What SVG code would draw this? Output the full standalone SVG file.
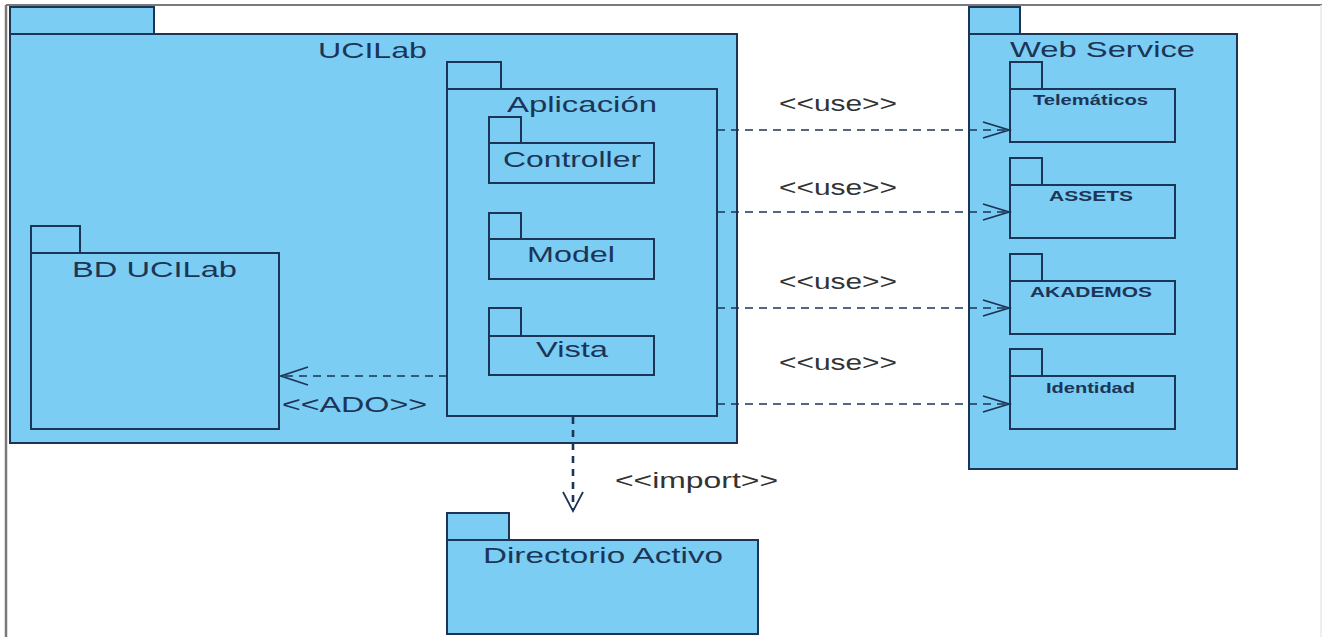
<svg xmlns="http://www.w3.org/2000/svg" width="1327" height="637" viewBox="0 0 1327 637">
<style>
.pk{fill:#7BCDF3;stroke:#1C3557;stroke-width:2}
.t{font-family:"Liberation Sans",Arial,sans-serif;fill:#1C3557;font-size:22px}
.tb{font-family:"Liberation Sans",Arial,sans-serif;fill:#1C3557;font-size:14px;font-weight:bold}
.lb{font-family:"Liberation Sans",Arial,sans-serif;fill:#333;font-size:22px}
.dep{fill:none;stroke:#1C3557;stroke-width:1.6;stroke-dasharray:8 6}
.imp{fill:none;stroke:#1C3557;stroke-width:2.6;stroke-dasharray:7 6}
.hd{fill:none;stroke:#1C3557;stroke-width:1.8}
</style>
<rect width="1327" height="637" fill="#fff"/>
<g id="frame">
<line x1="6" y1="5" x2="6" y2="637" stroke="#7a7a7a" stroke-width="2.5"/>
<line x1="6" y1="5" x2="1322" y2="5" stroke="#7a7a7a" stroke-width="2"/>
<line x1="1321" y1="5" x2="1321" y2="637" stroke="#e8e8e8" stroke-width="1.5"/>
</g>
<g id="UCILab">
<rect class="pk" x="10" y="7" width="144" height="27"/>
<rect class="pk" x="10" y="34" width="727" height="409"/>
<text class="t" x="318" y="58" textLength="109" lengthAdjust="spacingAndGlyphs">UCILab</text>
</g>
<g id="BD_UCILab">
<rect class="pk" x="31" y="226" width="49" height="27"/>
<rect class="pk" x="31" y="253" width="248" height="176"/>
<text class="t" x="72" y="277" textLength="165" lengthAdjust="spacingAndGlyphs">BD UCILab</text>
</g>
<g id="Aplicacion">
<rect class="pk" x="447" y="62" width="54" height="27"/>
<rect class="pk" x="447" y="89" width="270" height="327"/>
<text class="t" x="507" y="112" textLength="150" lengthAdjust="spacingAndGlyphs">Aplicación</text>
</g>
<g id="Controller">
<rect class="pk" x="489" y="117" width="32" height="26"/>
<rect class="pk" x="489" y="143" width="165" height="40"/>
<text class="t" x="503" y="167" textLength="138" lengthAdjust="spacingAndGlyphs">Controller</text>
</g>
<g id="Model">
<rect class="pk" x="489" y="213" width="32" height="26"/>
<rect class="pk" x="489" y="239" width="165" height="40"/>
<text class="t" x="527" y="262" textLength="88" lengthAdjust="spacingAndGlyphs">Model</text>
</g>
<g id="Vista">
<rect class="pk" x="489" y="308" width="32" height="28"/>
<rect class="pk" x="489" y="336" width="165" height="39"/>
<text class="t" x="536" y="357" textLength="72" lengthAdjust="spacingAndGlyphs">Vista</text>
</g>
<g id="WebService">
<rect class="pk" x="969" y="7" width="51" height="27"/>
<rect class="pk" x="969" y="34" width="268" height="435"/>
<text class="t" x="1010" y="57" textLength="185" lengthAdjust="spacingAndGlyphs">Web Service</text>
</g>
<g id="Telematicos">
<rect class="pk" x="1010" y="62" width="32" height="27"/>
<rect class="pk" x="1010" y="89" width="165" height="53"/>
<text class="tb" x="1033" y="105" textLength="115" lengthAdjust="spacingAndGlyphs">Telemáticos</text>
</g>
<g id="ASSETS">
<rect class="pk" x="1010" y="158" width="32" height="27"/>
<rect class="pk" x="1010" y="185" width="165" height="53"/>
<text class="tb" x="1049" y="201" textLength="84" lengthAdjust="spacingAndGlyphs">ASSETS</text>
</g>
<g id="AKADEMOS">
<rect class="pk" x="1010" y="254" width="32" height="27"/>
<rect class="pk" x="1010" y="281" width="165" height="53"/>
<text class="tb" x="1030" y="297" textLength="122" lengthAdjust="spacingAndGlyphs">AKADEMOS</text>
</g>
<g id="Identidad">
<rect class="pk" x="1010" y="349" width="32" height="27"/>
<rect class="pk" x="1010" y="376" width="165" height="53"/>
<text class="tb" x="1046" y="393" textLength="89" lengthAdjust="spacingAndGlyphs">Identidad</text>
</g>
<g id="DirectorioActivo">
<rect class="pk" x="447" y="513" width="62" height="27"/>
<rect class="pk" x="447" y="540" width="311" height="94"/>
<text class="t" x="483" y="563" textLength="240" lengthAdjust="spacingAndGlyphs">Directorio Activo</text>
</g>
<g id="connectors">
<line class="dep" x1="447" y1="376" x2="281" y2="376"/>
<polyline class="hd" points="308,367 281,376 308,385"/>
<text class="t" x="282" y="412" textLength="145" lengthAdjust="spacingAndGlyphs">&lt;&lt;ADO&gt;&gt;</text>

<line class="dep" x1="717" y1="130" x2="1009" y2="130"/>
<polyline class="hd" points="983,122 1009,130 983,138"/>
<text class="lb" x="779" y="111" textLength="118" lengthAdjust="spacingAndGlyphs">&lt;&lt;use&gt;&gt;</text>

<line class="dep" x1="717" y1="212" x2="1009" y2="212"/>
<polyline class="hd" points="983,204 1009,212 983,220"/>
<text class="lb" x="779" y="195" textLength="118" lengthAdjust="spacingAndGlyphs">&lt;&lt;use&gt;&gt;</text>

<line class="dep" x1="717" y1="308" x2="1009" y2="308"/>
<polyline class="hd" points="983,300 1009,308 983,316"/>
<text class="lb" x="779" y="289" textLength="118" lengthAdjust="spacingAndGlyphs">&lt;&lt;use&gt;&gt;</text>

<line class="dep" x1="717" y1="404" x2="1009" y2="404"/>
<polyline class="hd" points="983,396 1009,404 983,412"/>
<text class="lb" x="779" y="370" textLength="118" lengthAdjust="spacingAndGlyphs">&lt;&lt;use&gt;&gt;</text>

<line class="imp" x1="573" y1="417" x2="573" y2="510"/>
<polyline class="hd" points="563,492 573,511 583,492"/>
<text class="lb" x="615" y="488" textLength="163" lengthAdjust="spacingAndGlyphs">&lt;&lt;import&gt;&gt;</text>
</g>
</svg>
